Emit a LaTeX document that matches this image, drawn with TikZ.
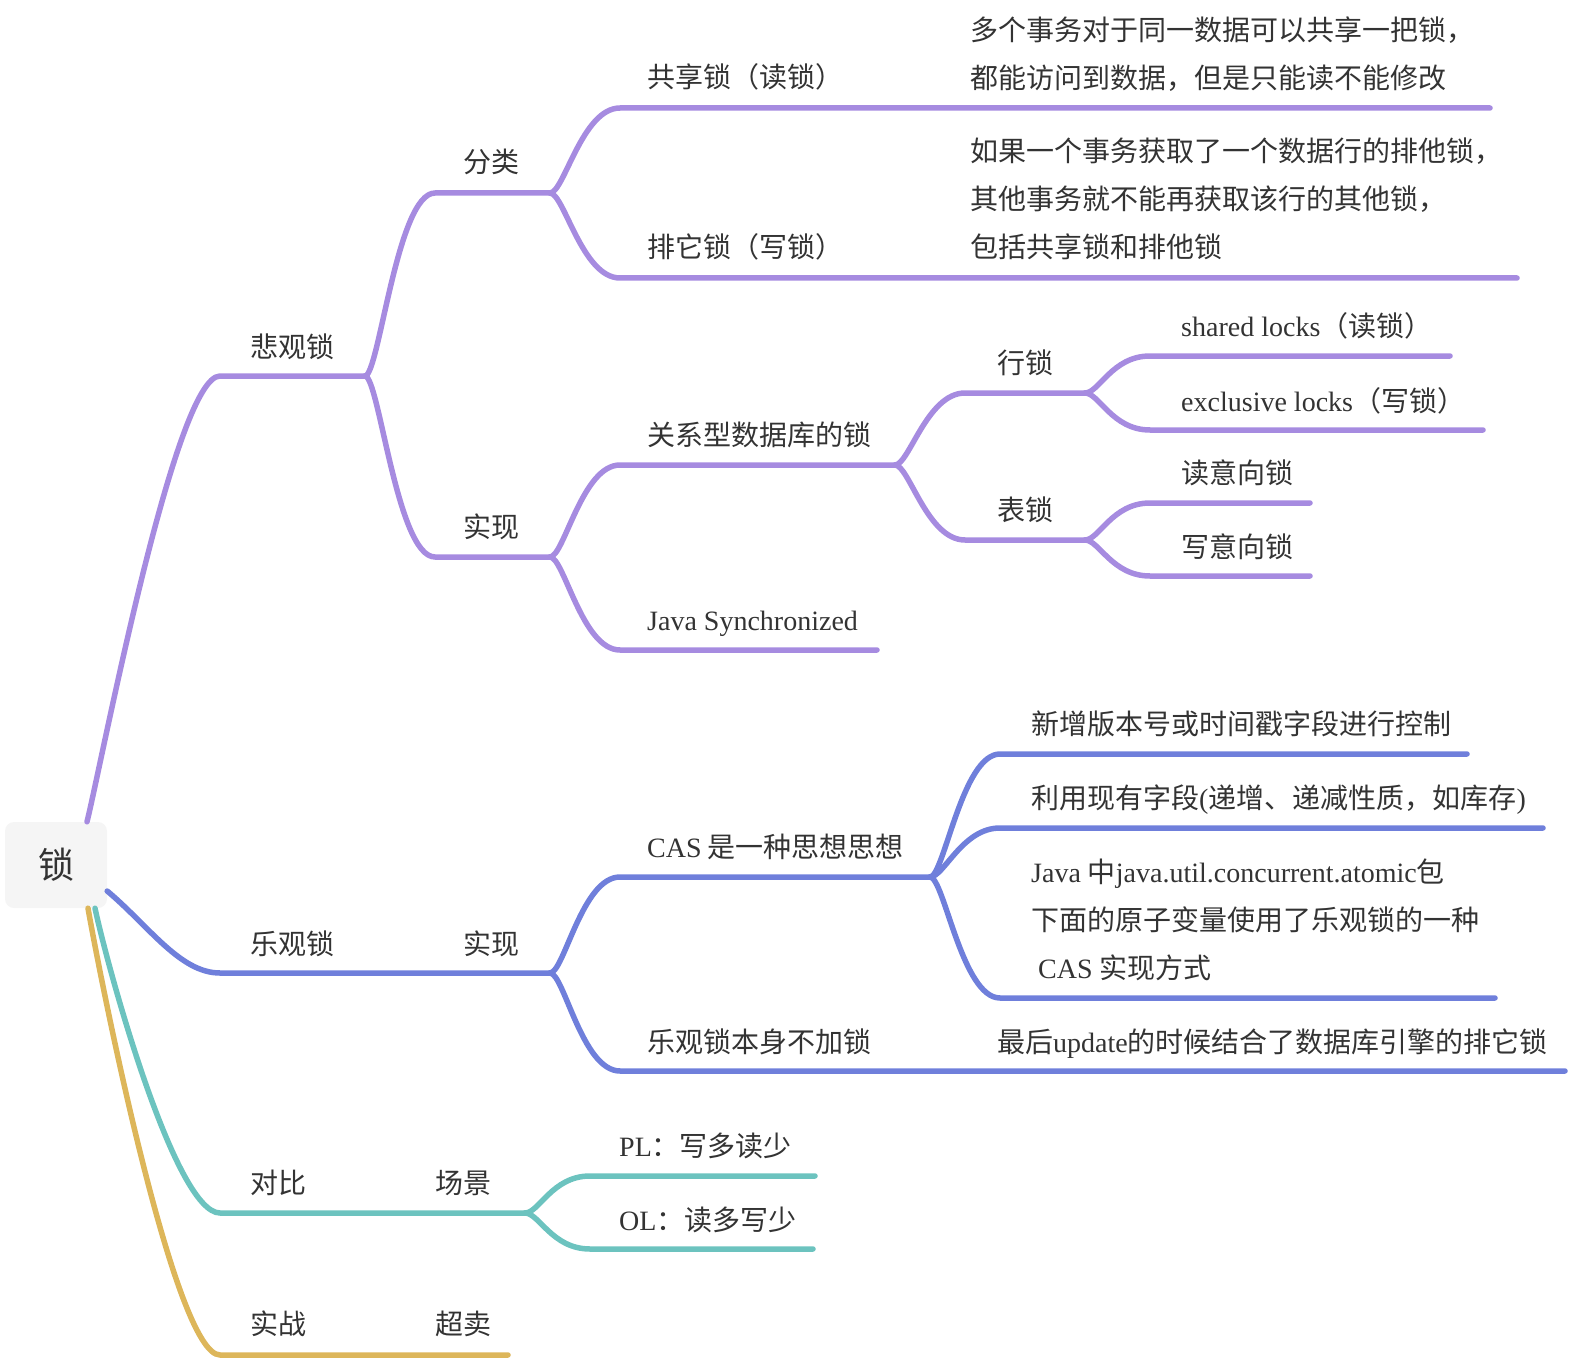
\documentclass[tikz,border=0pt]{standalone}
\usepackage{fontspec}
\setmainfont{Noto Sans CJK SC}
\newfontfamily\latin{Liberation Serif}
\usetikzlibrary{positioning}

\definecolor{pesscol}{HTML}{A68BE0}
\definecolor{optcol}{HTML}{6F7FDB}
\definecolor{cmpcol}{HTML}{6CC3BF}
\definecolor{praccol}{HTML}{DDB65A}
\definecolor{txtcol}{HTML}{333333}
\definecolor{rootfill}{HTML}{F5F5F5}

\newcommand{\en}[1]{{\latin\fontsize{28}{48}\selectfont #1}}
\newcommand{\ls}{\rule[-3pt]{0pt}{30pt}}

\tikzset{
  topic/.style={anchor=west, inner sep=0pt, text=txtcol, font=\fontsize{28}{48}\selectfont, text height=27pt, text depth=3pt},
  note/.style={anchor=west, inner sep=0pt, text=txtcol, font=\fontsize{28}{48}\selectfont, align=left},
  branch/.style={line width=5.5pt, line cap=round, line join=round},
  fork/.style={out=0, in=180, out distance=14pt, in distance=38pt},
}

\begin{document}
\begin{tikzpicture}[x=1pt, y=-1pt]
    \useasboundingbox (0,0) rectangle (1574,1364);

    % root
    \node[fill=rootfill, rounded corners=9pt, minimum width=102pt, minimum height=86pt, text=txtcol, font=\fontsize{36}{40}\selectfont] (root) at (56,865) {锁};
    \coordinate (rootA) at ([xshift=31pt]root.north);
    \coordinate (rootB) at ([yshift=-26pt]root.east);
    \coordinate (rootC) at ([xshift=39pt]root.south);
    \coordinate (rootD) at ([xshift=32pt]root.south);

    % line ends
    \coordinate (bg0) at (220,376);  \coordinate (bg1) at (365,376);
    \coordinate (fl0) at (435,193);  \coordinate (fl1) at (550,193);
    \coordinate (gx0) at (620,108);  \coordinate (gx1) at (1490,108);
    \coordinate (pt0) at (620,278);  \coordinate (pt1) at (1517,278);
    \coordinate (sx0) at (435,557);  \coordinate (sx1) at (550,557);
    \coordinate (gs0) at (620,465);  \coordinate (gs1) at (895,465);
    \coordinate (hs0) at (965,393);  \coordinate (hs1) at (1085,393);
    \coordinate (sl0) at (1150,356); \coordinate (sl1) at (1450,356);
    \coordinate (el0) at (1150,430); \coordinate (el1) at (1483,430);
    \coordinate (bs0) at (965,540);  \coordinate (bs1) at (1085,540);
    \coordinate (ri0) at (1150,503); \coordinate (ri1) at (1310,503);
    \coordinate (wi0) at (1150,576); \coordinate (wi1) at (1310,576);
    \coordinate (js0) at (620,650);  \coordinate (js1) at (877,650);
    \coordinate (lg0) at (220,973);  \coordinate (lg1) at (365,973);
    \coordinate (sy0) at (435,973);  \coordinate (sy1) at (550,973);
    \coordinate (cas0) at (620,877); \coordinate (cas1) at (930,877);
    \coordinate (add0) at (1000,754); \coordinate (add1) at (1467,754);
    \coordinate (use0) at (1000,828); \coordinate (use1) at (1543,828);
    \coordinate (atm0) at (1000,998); \coordinate (atm1) at (1495,998);
    \coordinate (nl0) at (620,1071); \coordinate (nl1) at (1565,1071);
    \coordinate (db0) at (220,1213); \coordinate (db1) at (365,1213);
    \coordinate (cj0) at (435,1213); \coordinate (cj1) at (525,1213);
    \coordinate (pl0) at (590,1176); \coordinate (pl1) at (815,1176);
    \coordinate (ol0) at (590,1249); \coordinate (ol1) at (813,1249);
    \coordinate (sz0) at (220,1355); \coordinate (sz1) at (365,1355);
    \coordinate (cm0) at (435,1355); \coordinate (cm1) at (508,1355);

    % pessimistic
    \draw[branch, pesscol] (rootA) to[out=76, in=180, out distance=60pt, in distance=45pt] (bg0) -- (bg1); % root -> 悲观锁
    \draw[branch, pesscol] (bg1) to[fork] (fl0) -- (fl1);
    \draw[branch, pesscol] (fl1) to[fork] (gx0) -- (gx1);
    \draw[branch, pesscol] (fl1) to[fork] (pt0) -- (pt1);
    \draw[branch, pesscol] (bg1) to[fork] (sx0) -- (sx1);
    \draw[branch, pesscol] (sx1) to[fork] (gs0) -- (gs1);
    \draw[branch, pesscol] (gs1) to[fork] (hs0) -- (hs1);
    \draw[branch, pesscol] (hs1) to[fork] (sl0) -- (sl1);
    \draw[branch, pesscol] (hs1) to[fork] (el0) -- (el1);
    \draw[branch, pesscol] (gs1) to[fork] (bs0) -- (bs1);
    \draw[branch, pesscol] (bs1) to[fork] (ri0) -- (ri1);
    \draw[branch, pesscol] (bs1) to[fork] (wi0) -- (wi1);
    \draw[branch, pesscol] (sx1) to[fork] (js0) -- (js1);

    % optimistic
    \draw[branch, optcol] (rootB) to[out=-40, in=180, in distance=40pt] (lg0) -- (lg1) -- (sy0) -- (sy1); % root -> 乐观锁 -> 实现
    \draw[branch, optcol] (sy1) to[fork] (cas0) -- (cas1);
    \draw[branch, optcol] (cas1) to[fork] (add0) -- (add1);
    \draw[branch, optcol] (cas1) to[fork] (use0) -- (use1);
    \draw[branch, optcol] (cas1) to[fork] (atm0) -- (atm1);
    \draw[branch, optcol] (sy1) to[fork] (nl0) -- (nl1);

    % compare
    \draw[branch, cmpcol] (rootC) to[out=-78, in=180, out distance=60pt, in distance=45pt] (db0) -- (db1) -- (cj0) -- (cj1);
    \draw[branch, cmpcol] (cj1) to[fork] (pl0) -- (pl1);
    \draw[branch, cmpcol] (cj1) to[fork] (ol0) -- (ol1);

    % practice
    \draw[branch, praccol] (rootD) to[out=-80, in=180, out distance=80pt, in distance=45pt] (sz0) -- (sz1) -- (cm0) -- (cm1);

    % texts
    \node[topic] (bg) at (250,345) {悲观锁};
    \node[topic] (fl) at (463,161) {分类};
    \node[topic] (gx) at (647,76) {共享锁（读锁）};
    \node[note] (gxn) at (970,53) {\ls 多个事务对于同一数据可以共享一把锁，\\\ls 都能访问到数据，但是只能读不能修改};
    \node[topic] (pt) at (647,246) {排它锁（写锁）};
    \node[note] (ptn) at (970,198) {\ls 如果一个事务获取了一个数据行的排他锁，\\\ls 其他事务就不能再获取该行的其他锁，\\\ls 包括共享锁和排他锁};
    \node[topic] (sx) at (463,525) {实现};
    \node[topic] (gs) at (647,433) {关系型数据库的锁};
    \node[topic] (hs) at (997,361) {行锁};
    \node[topic] (sl) at (1181,325) {\en{shared locks}（读锁）};
    \node[topic] (el) at (1181,399) {\en{exclusive locks}（写锁）};
    \node[topic] (bs) at (997,508) {表锁};
    \node[topic] (ri) at (1181,471) {读意向锁};
    \node[topic] (wi) at (1181,545) {写意向锁};
    \node[topic] (js) at (647,618) {\en{Java Synchronized}};

    \node[topic] (lg) at (250,942) {乐观锁};
    \node[topic] (sy) at (463,942) {实现};
    \node[topic] (cas) at (647,845) {\en{CAS} 是一种思想思想};
    \node[topic] (add) at (1031,722) {新增版本号或时间戳字段进行控制};
    \node[topic] (use) at (1031,796) {利用现有字段\en{(}递增、递减性质，如库存\en{)}};
    \node[note] (atm) at (1031,918) {\ls\en{Java }中\en{java.util.concurrent.atomic}包\\\ls 下面的原子变量使用了乐观锁的一种\\\ls\en{\ CAS }实现方式};
    \node[topic] (nl) at (647,1040) {乐观锁本身不加锁};
    \node[topic] (nln) at (997,1040) {最后\en{update}的时候结合了数据库引擎的排它锁};

    \node[topic] (db) at (250,1181) {对比};
    \node[topic] (cj) at (435,1181) {场景};
    \node[topic] (pl) at (619,1144) {\en{PL}：写多读少};
    \node[topic] (ol) at (619,1218) {\en{OL}：读多写少};

    \node[topic] (sz) at (250,1322) {实战};
    \node[topic] (cm) at (435,1322) {超卖};

\end{tikzpicture}
\end{document}
